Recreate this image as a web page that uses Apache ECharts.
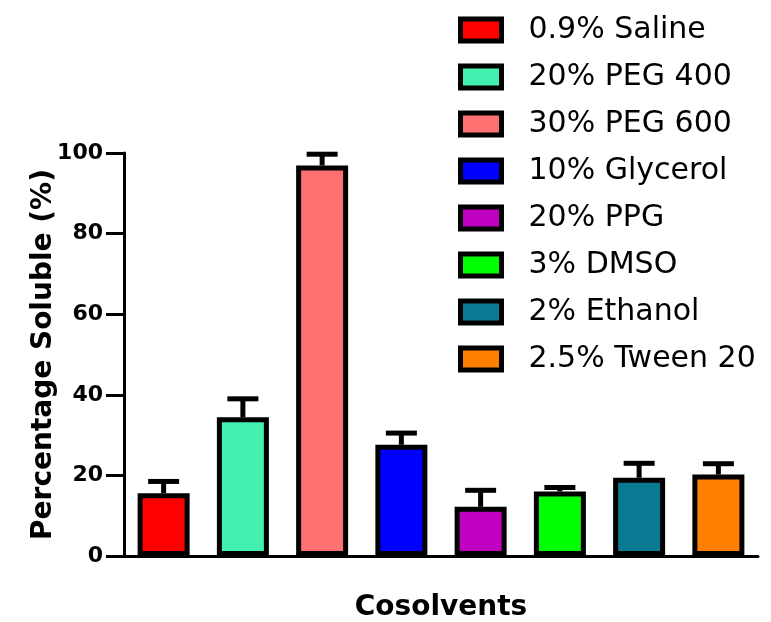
<!DOCTYPE html>
<html>
<head>
<meta charset="utf-8">
<script src="https://cdn.jsdelivr.net/npm/echarts@6/dist/echarts.min.js"></script>
<style>
html,body{margin:0;padding:0;background:#fff;}
#chart{width:771px;height:622px;}
</style>
</head>
<body>
<div id="chart"></div>
<script>
const categories = ['0.9% Saline','20% PEG 400','30% PEG 600','10% Glycerol','20% PPG','3% DMSO','2% Ethanol','2.5% Tween 20'];
const means = [15.6, 34.4, 96.9, 27.6, 12.2, 16.0, 19.4, 20.2];
const errors = [2.9, 4.6, 2.8, 2.9, 4.1, 1.0, 3.6, 2.7];
const colors = ['#FF0000','#44F0B0','#FF7070','#0000FF','#C000C0','#00FF00','#087A92','#FF8000'];
const yTicks = [0, 20, 40, 60, 80, 100];

const chart = echarts.init(document.getElementById('chart'), null, {renderer:'canvas'});

const barSeries = categories.map((name, i) => ({
  name: name,
  type: 'bar',
  barWidth: 52,
  barGap: '-100%',
  itemStyle: {color: colors[i], borderColor: '#000', borderWidth: 5},
  data: categories.map((c, j) => j === i ? means[i] : '-'),
  z: 3
}));

const errSeries = {
  type: 'custom',
  name: 'err',
  z: 2,
  silent: true,
  data: categories.map((c, i) => [i, means[i], errors[i]]),
  renderItem: function(params, api) {
    const base = api.coord([api.value(0), api.value(1)]);
    const top = api.coord([api.value(0), api.value(1) + api.value(2)]);
    const hw = 15.5;
    const st = {stroke: '#000', lineWidth: 5};
    return {
      type: 'group',
      children: [
        {type: 'line', shape: {x1: base[0], y1: base[1], x2: top[0], y2: top[1]}, style: st},
        {type: 'line', shape: {x1: top[0] - hw, y1: top[1], x2: top[0] + hw, y2: top[1]}, style: st}
      ]
    };
  }
};

chart.setOption({
  animation: false,
  backgroundColor: '#fff',
  textStyle: {fontFamily: 'DejaVu Sans'},
  grid: {left: 124, right: 13, top: 153, bottom: 66, containLabel: false, outerBoundsMode: 'none'},
  legend: {
    data: categories,
    orient: 'vertical',
    left: 458,
    top: 15,
    padding: 0,
    itemWidth: 41,
    itemHeight: 22,
    itemGap: 17,
    icon: 'rect',
    itemStyle: {borderColor: '#000', borderWidth: 5},
    textStyle: {fontFamily: 'DejaVu Sans', fontSize: 30, color: '#000', lineHeight: 30, padding: [0,0,0,22]},
    selectedMode: false
  },
  xAxis: {
    type: 'category',
    data: categories,
    boundaryGap: true,
    name: 'Cosolvents',
    nameLocation: 'middle',
    nameGap: 38,
    nameMoveOverlap: false,
    nameTextStyle: {fontFamily: 'DejaVu Sans', fontWeight: 'bold', fontSize: 28, color: '#000'},
    axisLine: {show: true, lineStyle: {color: '#000', width: 3}},
    axisTick: {show: false},
    axisLabel: {show: false},
    splitLine: {show: false}
  },
  yAxis: {
    type: 'value',
    min: yTicks[0],
    max: yTicks[yTicks.length - 1],
    interval: 20,
    name: 'Percentage Soluble (%)',
    nameLocation: 'middle',
    nameGap: 66,
    nameMoveOverlap: false,
    nameTextStyle: {fontFamily: 'DejaVu Sans', fontWeight: 'bold', fontSize: 28, color: '#000'},
    axisLine: {show: true, lineStyle: {color: '#000', width: 3}},
    axisTick: {show: true, length: 18, lineStyle: {color: '#000', width: 3}},
    axisLabel: {fontFamily: 'DejaVu Sans', fontWeight: 'bold', fontSize: 22, color: '#000', margin: 21},
    splitLine: {show: false}
  },
  series: [errSeries].concat(barSeries)
});
</script>
</body>
</html>
